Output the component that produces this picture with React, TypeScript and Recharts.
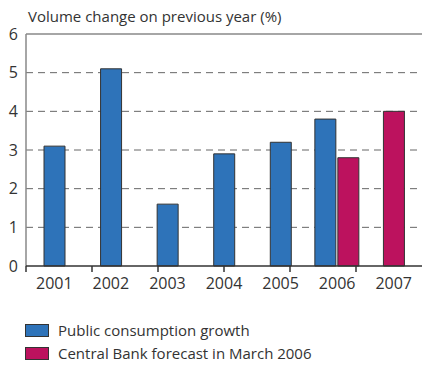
import { Bar, BarChart, CartesianGrid, Cell, ReferenceLine, XAxis, YAxis } from "recharts"

const years = ["2001", "2002", "2003", "2004", "2005", "2006", "2007"]
const publicGrowth: (number | null)[] = [3.1, 5.1, 1.6, 2.9, 3.2, 3.8, null]
const bankForecast: (number | null)[] = [null, null, null, null, null, 2.8, 4.0]
const yTicks = [0, 1, 2, 3, 4, 5, 6]
const boundaryTicks = [0, 1, 2, 3, 4, 5, 6, 7]

const BLUE = "#2e73b9"
const MAGENTA = "#bc125e"
const FONT = "'Open Sans', sans-serif"

// years with only one value get a single centred bar, years with both get a pair
const data = years.map((year, i) => {
  const a = publicGrowth[i]
  const b = bankForecast[i]
  const both = a != null && b != null
  return {
    year,
    single: both ? null : a ?? b,
    singleColor: a != null ? BLUE : MAGENTA,
    pairA: both ? a : null,
    pairB: both ? b : null,
  }
})

export default function App() {
  return (
    <div style={{ position: "relative", width: 422, height: 365, fontFamily: FONT, color: "#333" }}>
      <style>{"body{margin:0}"}</style>
      <div style={{ position: "absolute", left: 28, top: 6, fontSize: 15 }}>
        Volume change on previous year (%)
      </div>
      <BarChart
        width={422}
        height={365}
        data={data}
        margin={{ top: 34, right: 0, left: 0, bottom: 69 }}
        barSize={21}
        barGap={2}
      >
        <CartesianGrid vertical={false} stroke="#666" strokeDasharray="7 5" horizontalValues={[1, 2, 3, 4, 5]} />
        <ReferenceLine y={6} stroke="#888" strokeWidth={1.5} />
        <YAxis
          domain={[0, 6]}
          ticks={yTicks}
          width={26}
          tickLine={false}
          tickSize={0}
          tickMargin={8}
          axisLine={{ stroke: "#888", strokeWidth: 1.5 }}
          tick={{ fill: "#333", fontSize: 16, fontFamily: FONT }}
        />
        {/* boundary ticks + axis line, sits right under the plot */}
        <XAxis
          xAxisId="a"
          type="number"
          domain={[0, 7]}
          ticks={boundaryTicks}
          allowDataOverflow
          axisLine={{ stroke: "#333", strokeWidth: 1.5 }}
          tickLine={{ stroke: "#333", strokeWidth: 1.5 }}
          tickSize={6}
          tick={() => <g />}
          height={6}
        />
        <XAxis
          xAxisId="b"
          dataKey="year"
          axisLine={false}
          tickLine={false}
          tickSize={0}
          tickMargin={6}
          tick={{ fill: "#333", fontSize: 16, fontFamily: FONT }}
          height={24}
        />
        <XAxis xAxisId="c" dataKey="year" hide />
        <Bar xAxisId="b" dataKey="single" stroke="#333" strokeWidth={1} isAnimationActive={false}>
          {data.map((d) => (
            <Cell key={d.year} fill={d.singleColor} />
          ))}
        </Bar>
        <Bar xAxisId="c" dataKey="pairA" fill={BLUE} stroke="#333" strokeWidth={1} isAnimationActive={false} />
        <Bar xAxisId="c" dataKey="pairB" fill={MAGENTA} stroke="#333" strokeWidth={1} isAnimationActive={false} />
      </BarChart>
      <div style={{ position: "absolute", left: 25, top: 319, fontSize: 15, lineHeight: "23px" }}>
        <div style={{ display: "flex", alignItems: "center" }}>
          <span style={{ width: 22, height: 11, background: BLUE, border: "1px solid #333", marginRight: 9 }} />
          Public consumption growth
        </div>
        <div style={{ display: "flex", alignItems: "center" }}>
          <span style={{ width: 22, height: 11, background: MAGENTA, border: "1px solid #333", marginRight: 9 }} />
          Central Bank forecast in March 2006
        </div>
      </div>
    </div>
  )
}
